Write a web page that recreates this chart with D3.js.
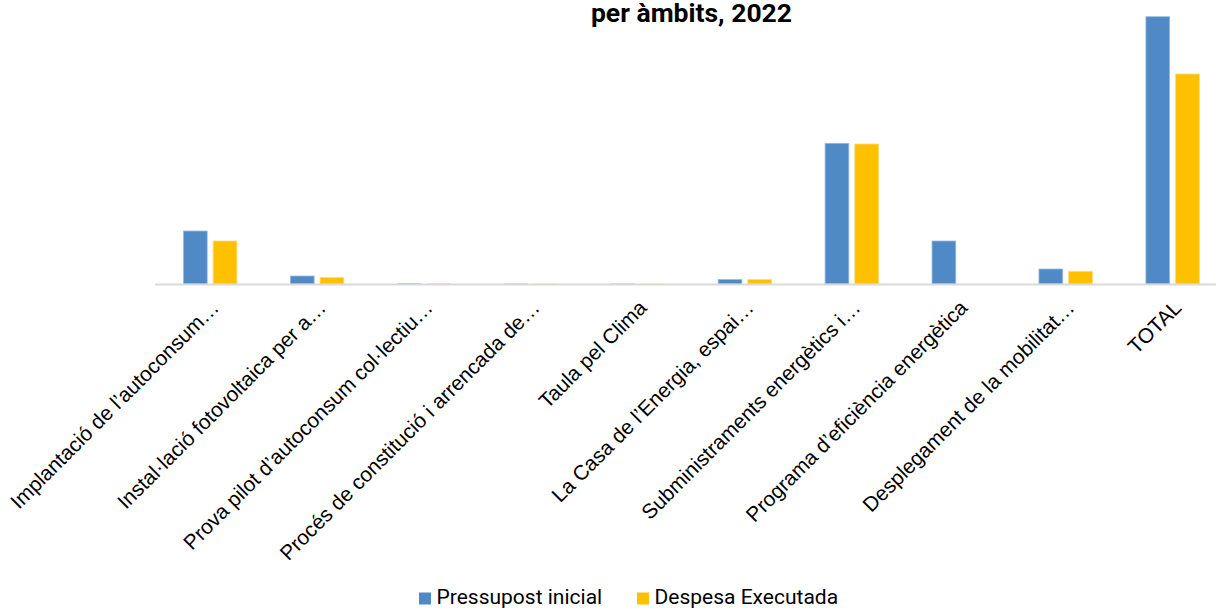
<!DOCTYPE html>
<html lang="ca">
<head>
  <meta charset="UTF-8">
  <title>Pressupost inicial i despesa executada per àmbits, 2022</title>
  <script src="https://d3js.org/d3.v7.min.js"></script>
  <style>
    body {
      margin: 0;
      padding: 0;
      background: #fff;
      font-family: Roboto, "Noto Sans", Arial, sans-serif;
      overflow: hidden;
    }
    #chart { display: block; }
    .cat-label { font-family: "Liberation Sans", Arial, sans-serif; font-size: 20.8px; fill: #000; }
    .legend-label { font-size: 21px; fill: #000; }
    .title { font-size: 26.5px; font-weight: bold; fill: #000; }
  </style>
</head>
<body>
  <div id="chart"></div>

  <script>
    // categories (labels truncated as in the original)
    const categories = [
      "Implantació de l’autoconsum…",
      "Instal·lació fotovoltaica per a…",
      "Prova pilot d’autoconsum col·lectiu…",
      "Procés de constitució i arrencada de…",
      "Taula pel Clima",
      "La Casa de l’Energia, espai…",
      "Subministraments energètics i…",
      "Programa d’eficiència energètica",
      "Desplegament de la mobilitat…",
      "TOTAL"
    ];

    const seriesNames = ["Pressupost inicial", "Despesa Executada"];

    // estimated values (relative units)
    const pressupost = [53, 8, 0.5, 0.3, 0.3, 4.5, 140.7, 43, 15, 267.3];
    const despesa    = [43, 6.5, 0.4, 0.2, 0.2, 4.5, 140, 0, 12.7, 210];

    const colors = ["#4f89c6", "#ffc000"];
    const strokes = ["#9bbbe0", "#ffdc73"];

    const width = 1216;
    const height = 608;

    const svg = d3.select("#chart")
                  .append("svg")
                  .attr("width", width)
                  .attr("height", height);

    const baseY = 284;

    const x = d3.scaleBand()
                .domain(categories)
                .range([156.7, 1226.1]);

    const xInner = d3.scaleBand()
                     .domain(seriesNames)
                     .range([0, x.bandwidth()])
                     .paddingInner(0.2)
                     .paddingOuter(0.9);

    const y = d3.scaleLinear()
                .domain([0, d3.max(pressupost)])
                .range([baseY, 16.7]);

    const rows = categories.map((c, i) => ({
      cat: c,
      vals: [
        { s: seriesNames[0], v: pressupost[i], k: 0 },
        { s: seriesNames[1], v: despesa[i], k: 1 }
      ]
    }));

    // bars
    const groups = svg.selectAll(".cat")
       .data(rows)
       .enter()
       .append("g")
       .attr("class", "cat")
       .attr("transform", d => `translate(${x(d.cat)},0)`);

    groups.selectAll("rect")
       .data(d => d.vals.filter(e => e.v > 0))
       .enter()
       .append("rect")
       .attr("x", d => xInner(d.s))
       .attr("y", d => y(d.v))
       .attr("width", xInner.bandwidth())
       .attr("height", d => Math.max(0.5, baseY - y(d.v)))
       .attr("fill", d => colors[d.k])
       .attr("stroke", d => d.v > 2 ? strokes[d.k] : "none")
       .attr("stroke-width", 0.8);

    // category axis
    const xAxis = svg.append("g")
       .attr("transform", `translate(0,${baseY})`)
       .call(d3.axisBottom(x).tickSize(0).tickPadding(0));

    xAxis.select(".domain")
       .attr("d", `M155,0.5H${width}`)
       .attr("stroke", "#d9d9d9")
       .attr("stroke-width", 2);

    xAxis.selectAll(".tick text")
       .attr("class", "cat-label")
       .attr("font-family", null)
       .attr("font-size", null)
       .attr("text-anchor", "end")
       .attr("y", 0)
       .attr("dy", null)
       .attr("transform", "translate(10,25) rotate(-45)")
       .attr("fill", "#000");

    // title (first line falls above the visible area)
    svg.append("text")
       .attr("class", "title")
       .attr("x", 691.5)
       .attr("y", 22)
       .attr("text-anchor", "middle")
       .text("per àmbits, 2022");

    // legend
    const legendX = [419, 637];
    const legend = svg.selectAll(".legend")
       .data(seriesNames)
       .enter()
       .append("g")
       .attr("class", "legend")
       .attr("transform", (d, i) => `translate(${legendX[i]},592.5)`);

    legend.append("rect")
       .attr("width", 12)
       .attr("height", 12)
       .attr("fill", (d, i) => colors[i]);

    legend.append("text")
       .attr("class", "legend-label")
       .attr("x", 17.5)
       .attr("y", 11.5)
       .text(d => d);
  </script>
</body>
</html>
